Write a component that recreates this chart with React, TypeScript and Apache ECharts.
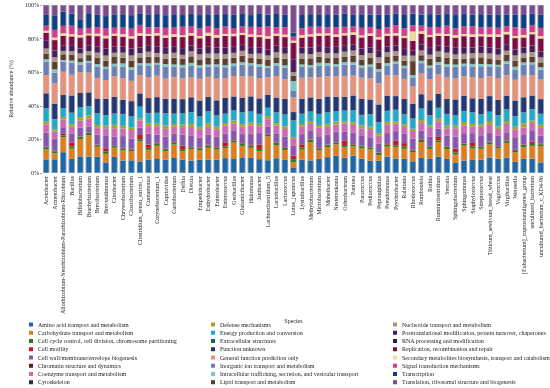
import { useEffect, useRef } from "react";
import * as echarts from "echarts";

const species = [
  "Acetobacter", "Acinetobacter", "Allorhizobium-Neorhizobium-Pararhizobium-Rhizobium", "Bacillus", "Bifidobacterium",
  "Brachybacterium", "Brevibacterium", "Brevundimonas", "Citrobacter", "Chryseobacterium",
  "Cloacibacterium", "Clostridium_sensu_stricto_1", "Comamonas", "Corynebacterium_1", "Cupriavidus",
  "Curtobacterium", "Delftia", "Dietzia", "Empedobacter", "Enhydrobacter",
  "Enterobacter", "Enterococcus", "Geobacillus", "Glutamicibacter", "Halomonas",
  "Janibacter", "Lachnoclostridium_5", "Lactobacillus", "Lactococcus", "Lotus_japonicus",
  "Lysinibacillus", "Methylobacterium", "Microbacterium", "Moheibacter", "Nesterenkonia",
  "Ochrobactrum", "Pantoea", "Paracoccus", "Pediococcus", "Peptoniphilus",
  "Pseudomonas", "Psychrobacter", "Ralstonia", "Rhodococcus", "Romboutsia",
  "Rothia", "Ruminiclostridium", "Serratia", "Sphingobacterium", "Sphingomonas",
  "Staphylococcus", "Streptococcus", "Triticum_aestivum_bread_wheat", "Vagococcus", "Virgibacillus",
  "Weissella", "[Eubacterium]_coprostanoligenes_group", "uncultured_bacterium", "uncultured_bacterium_c_KD4-96",
];

const categories = [
  "Amino acid transport and metabolism",
  "Carbohydrate transport and metabolism",
  "Cell cycle control, cell division, chromosome partitioning",
  "Cell motility",
  "Cell wall/membrane/envelope biogenesis",
  "Chromatin structure and dynamics",
  "Coenzyme transport and metabolism",
  "Cytoskeleton",
  "Defense mechanisms",
  "Energy production and conversion",
  "Extracellular structures",
  "Function unknown",
  "General function prediction only",
  "Inorganic ion transport and metabolism",
  "Intracellular trafficking, secretion, and vesicular transport",
  "Lipid transport and metabolism",
  "Nucleotide transport and metabolism",
  "Posttranslational modification, protein turnover, chaperones",
  "RNA processing and modification",
  "Replication, recombination and repair",
  "Secondary metabolites biosynthesis, transport and catabolism",
  "Signal transduction mechanisms",
  "Transcription",
  "Translation, ribosomal structure and biogenesis",
];

const colors = [
  "#1f66a6", "#e07d1a", "#2a7a1e", "#c01a1f", "#8a55b0", "#5e1a16", "#d066b8", "#2e2e2e",
  "#aaa12a", "#1eaacb", "#13665e", "#233872", "#e99178", "#6a7fb5", "#7cc8c0", "#5c3d2e",
  "#a89484", "#4a1a5e", "#1d1d6e", "#7e0c42", "#f7d898", "#d63a84", "#0c3f86", "#7b4b8e",
];

const aminoAcid = [8.2, 8, 12.5, 8.2, 10.5, 10, 10, 6.2, 9.5, 7.5, 7.5, 7, 8, 8.5, 8, 9, 8, 7.5, 8, 8, 8, 9, 8.5, 9.5, 9, 8.5, 8, 9, 8, 3.5, 8, 7.5, 8.5, 9.5, 10.5, 9.5, 10.5, 8.5, 7.5, 7, 10, 9, 8.5, 7.5, 9.5, 8.5, 10, 8.5, 6, 7.5, 8, 8, 9.5, 8.5, 9.5, 6.5, 8.5, 9, 6.5];
const carbohydrate = [6, 3.5, 9, 6, 11, 13, 6, 5, 5.5, 6, 5.5, 12, 6, 8, 5, 8, 5, 7, 5.5, 7, 6, 6, 10, 7, 6, 5, 15, 8, 6, 3, 6, 11, 5, 6, 7, 6.5, 5.5, 6, 7, 3, 6, 7, 6, 6, 10, 6, 9, 6, 5, 9, 7, 6.5, 8, 6, 9, 5.5, 7, 8, 10];
const cellCycle = [1.4, 1.2, 1, 1.3, 1.2, 1.5, 1, 1.3, 1.1, 1.2, 1, 1.4, 1.2, 1.3, 1.1, 1.2, 1.3, 1, 1.2, 1.4, 1.3, 1.1, 1.2, 1.3, 1.4, 1.2, 1, 1.5, 1.2, 2, 1.2, 1.3, 1.1, 1.2, 1, 1.3, 1.2, 1.4, 1.1, 1.2, 1.3, 1.2, 1.4, 1.1, 1.3, 1.2, 1, 1.3, 1.2, 1.1, 1.4, 1.2, 1.3, 1.1, 1.2, 1.3, 1.4, 1.2, 1.1];
const cellMotility = [0.2, 0.3, 1, 2.2, 0.3, 0.2, 0.3, 2, 0.3, 0.4, 0.3, 3, 2, 0.5, 0.3, 0.4, 2, 0.3, 0.3, 0.4, 0.3, 2.5, 0.3, 0.4, 0.3, 2.8, 0.5, 0.3, 0.4, 2.2, 2, 0.3, 0.4, 0.3, 0.3, 2.6, 0.3, 0.4, 0.3, 0.3, 0.4, 2.8, 2, 0.3, 0.4, 0.3, 2.2, 0.3, 2.4, 0.3, 2, 0.3, 0.4, 0.3, 0.3, 0.4, 0.3, 1.5, 0.3];
const cellWall = [8.5, 7, 4, 5, 5.5, 3.5, 6, 7.5, 5, 7, 6, 4, 6.5, 5, 7, 5, 6.5, 7, 6, 6, 6, 5, 6, 5.5, 6.5, 7, 4.5, 5, 6.5, 6, 6, 5, 7, 6, 6.5, 5.5, 7, 6, 6, 5, 6.5, 6, 5.5, 7, 5.5, 6, 5, 6.5, 7, 6, 6, 6.5, 5.5, 6, 5, 7, 6, 6.5, 5];
const chromatin = [0.1, 0.1, 0.05, 0.1, 0.1, 0.05, 0.1, 0.1, 0.1, 0.05, 0.1, 0.1, 0.1, 0.05, 0.1, 0.1, 0.1, 0.1, 0.05, 0.1, 0.1, 0.1, 0.05, 0.1, 0.1, 0.1, 0.1, 0.05, 0.1, 0.2, 0.1, 0.1, 0.05, 0.1, 0.1, 0.1, 0.05, 0.1, 0.1, 0.1, 0.1, 0.05, 0.1, 0.1, 0.1, 0.05, 0.1, 0.1, 0.1, 0.1, 0.05, 0.1, 0.1, 0.1, 0.05, 0.1, 0.1, 0.1, 0.1];
const coenzyme = [5, 4, 4.5, 4, 4.5, 5, 4.5, 4, 5, 4.5, 5, 4, 4.5, 5, 4.5, 4, 4.5, 5, 5, 4.5, 4.5, 5, 4, 4.5, 5, 4, 4.5, 5, 4.5, 4, 4.5, 4, 5, 4.5, 4, 5, 4.5, 4, 5, 4.5, 5, 4.5, 4, 5, 4.5, 5, 4.5, 4, 5, 4.5, 4, 5, 4.5, 4, 5, 4.5, 4, 5, 4.5];
const cytoskeleton = [0.05, 0.05, 0.05, 0.05, 0.05, 0.05, 0.05, 0.05, 0.05, 0.05, 0.05, 0.05, 0.05, 0.05, 0.05, 0.05, 0.05, 0.05, 0.05, 0.05, 0.05, 0.05, 0.05, 0.05, 0.05, 0.05, 0.05, 0.05, 0.05, 0.1, 0.05, 0.05, 0.05, 0.05, 0.05, 0.05, 0.05, 0.05, 0.05, 0.05, 0.05, 0.05, 0.05, 0.05, 0.05, 0.05, 0.05, 0.05, 0.05, 0.05, 0.05, 0.05, 0.05, 0.05, 0.05, 0.05, 0.05, 0.05, 0.05];
const defense = [1.5, 1.2, 1.6, 1.5, 2.2, 1.8, 1.4, 1.5, 2, 1.6, 1.4, 1.3, 1.8, 1.5, 2, 1.6, 1.5, 1.8, 1.4, 2, 1.6, 1.5, 1.8, 1.4, 1.6, 1.5, 2, 1.4, 1.6, 1.2, 1.5, 1.8, 1.6, 1.5, 2, 1.4, 1.6, 1.8, 1.5, 1.2, 1.8, 1.5, 1.6, 1.4, 2, 1.5, 1.6, 1.8, 1.5, 2.2, 1.6, 1.5, 2.4, 1.5, 1.8, 1.6, 2.5, 1.5, 2];
const energy = [8, 6, 5, 6.5, 6, 5.5, 7, 6, 6.5, 7, 6.5, 7, 6, 6.5, 7, 6, 6.5, 7, 6, 7, 6.5, 5.5, 6, 7, 6.5, 6, 5, 6.5, 7, 10, 6, 5.5, 6.5, 7, 6, 6.5, 7, 6, 7.5, 6, 6.5, 7, 6, 6.5, 7, 6, 6.5, 7, 6, 6.5, 7, 6, 5.5, 6.5, 7, 6, 6.5, 7, 6.5];
const extracellular = [0.2, 0.2, 0.15, 0.2, 0.2, 0.15, 0.2, 0.2, 0.2, 0.15, 0.2, 0.2, 0.2, 0.15, 0.2, 0.2, 0.2, 0.15, 0.2, 0.2, 0.2, 0.15, 0.2, 0.2, 0.2, 0.15, 0.2, 0.2, 0.2, 0.3, 0.2, 0.15, 0.2, 0.2, 0.2, 0.15, 0.2, 0.2, 0.2, 0.15, 0.2, 0.2, 0.2, 0.15, 0.2, 0.2, 0.2, 0.15, 0.2, 0.2, 0.2, 0.15, 0.2, 0.2, 0.2, 0.15, 0.2, 0.2, 0.2];
const functionUnknown = [9, 9, 8, 10, 9, 8.5, 9, 9.5, 10, 8.5, 9, 8, 9, 9.5, 8.5, 9, 8.5, 9, 9.5, 8.5, 9, 9.5, 8.5, 9, 9, 9.5, 8, 9, 9.5, 5, 9, 8.5, 9, 9.5, 9, 8.5, 9, 9.5, 9, 10, 9, 8.5, 9, 9.5, 9, 9, 8.5, 9, 9.5, 9, 8.5, 9, 9.5, 9, 8.5, 9, 9, 8.5, 9];
const generalFunction = [11, 12, 14, 12, 13, 12, 12.5, 11, 12, 13, 12, 11, 12.5, 13, 12, 13, 12.5, 12, 13, 12, 13, 12, 12.5, 13, 12, 12.5, 11, 13, 12, 9, 12.5, 12, 13, 12, 12.5, 13, 12, 12.5, 13, 12, 12.5, 13, 12, 11, 13, 12.5, 12, 13, 12.5, 12, 13, 12.5, 12, 13, 12.5, 12, 13, 12.5, 12];
const inorganicIon = [8, 6, 6, 7, 5, 6, 7, 6.5, 6, 7, 6.5, 6, 7, 6.5, 7, 6, 6.5, 7, 6.5, 6, 7, 6.5, 6, 7, 6.5, 7, 6, 6.5, 7, 4, 6.5, 6, 7, 6.5, 6, 7, 6.5, 6, 7, 6.5, 6, 7, 6.5, 5.5, 6.5, 7, 6, 6.5, 7, 6, 6.5, 7, 6, 6.5, 7, 6, 6.5, 7, 6];
const intracellular = [1.5, 2, 1, 1.2, 1.5, 1.2, 1.5, 1.3, 1.5, 1.8, 1.5, 1.2, 1.5, 1.3, 1.6, 1.4, 1.5, 1.8, 1.5, 1.3, 1.5, 1.4, 1.6, 1.5, 1.3, 1.5, 1.2, 1.5, 1.4, 6, 1.5, 1.3, 1.6, 1.5, 1.4, 1.5, 1.6, 1.3, 1.5, 1.4, 1.6, 1.5, 1.4, 1.8, 1.5, 1.4, 1.6, 1.5, 1.3, 1.5, 1.6, 1.4, 1.5, 1.3, 1.5, 1.6, 1.4, 1.2, 1.5];
const lipid = [3.5, 4.5, 3.5, 3.5, 2.5, 3.5, 4, 3.5, 4, 3.5, 4, 3.5, 4, 3.5, 3, 4, 3.5, 4, 3.5, 4, 3.5, 4, 3.5, 4, 3, 3.5, 4, 3.5, 4, 3.5, 3.5, 4, 3.5, 3, 4, 3.5, 4, 3.5, 4, 3.5, 4, 3.5, 3, 9, 3.5, 4, 3.5, 4, 3.5, 3, 3.5, 4, 3.5, 3, 4, 3.5, 3, 3.5, 3];
const nucleotide = [3, 2.5, 2, 2, 3, 2.5, 3, 3, 2.5, 3, 3, 2.5, 3, 2.5, 3, 3, 2.5, 3, 3, 2.5, 3, 2.5, 3, 3, 2.5, 3, 2.5, 3, 3, 2, 3, 2.5, 3, 3, 2.5, 3, 3, 2.5, 3, 3, 2.5, 3, 3, 3.5, 3, 2.5, 3, 3, 2.5, 3, 3, 2.5, 3, 3, 2.5, 3, 2.5, 3, 3];
const posttranslational = [5, 4, 3, 3.5, 3, 3.5, 3.5, 4, 3.5, 3.5, 4, 3.5, 3.5, 4, 3.5, 3.5, 4, 3.5, 3.5, 4, 3.5, 4, 3.5, 3.5, 4, 3.5, 3.5, 4, 3.5, 8, 3.5, 4, 3.5, 3.5, 4, 3.5, 3.5, 4, 3.5, 4, 3.5, 3.5, 4, 3.5, 3.5, 4, 3.5, 3.5, 4, 3.5, 3.5, 4, 3.5, 3.5, 4, 3.5, 3.5, 4, 3.5];
const rnaProcessing = [0.1, 0.1, 0.1, 0.1, 0.1, 0.1, 0.1, 0.1, 0.1, 0.1, 0.1, 0.1, 0.1, 0.1, 0.1, 0.1, 0.1, 0.1, 0.1, 0.1, 0.1, 0.1, 0.1, 0.1, 0.1, 0.1, 0.1, 0.1, 0.1, 0.2, 0.1, 0.1, 0.1, 0.1, 0.1, 0.1, 0.1, 0.1, 0.1, 0.1, 0.1, 0.1, 0.1, 0.1, 0.1, 0.1, 0.1, 0.1, 0.1, 0.1, 0.1, 0.1, 0.1, 0.1, 0.1, 0.1, 0.1, 0.1, 0.1];
const replication = [4.5, 6, 6, 5, 7, 6, 6.5, 6, 6.5, 6, 6, 7, 6, 6.5, 6, 6, 6.5, 6, 6, 6.5, 6, 7, 6.5, 6, 6, 6.5, 7, 6, 6.5, 10, 6, 6.5, 6, 7, 6, 6.5, 6, 6.5, 7, 6, 6.5, 6, 6.5, 6, 7, 6.5, 6, 6.5, 6, 7, 6.5, 6, 6.5, 7, 6, 6.5, 6, 7, 8];
const secondary = [1.2, 1.5, 1.5, 1.2, 1.5, 1, 1.5, 1.5, 1.2, 1.5, 1.3, 1.5, 1.2, 1.5, 1.3, 1.5, 1.2, 1.5, 1.3, 1.8, 1.5, 1.2, 1.5, 1.3, 1.5, 1.2, 1.5, 1.3, 1.5, 1.2, 1.5, 1.3, 1.5, 1.2, 1.5, 1.3, 1.5, 1.2, 1.5, 1.3, 1.2, 1.5, 1.3, 6, 1.5, 1.3, 1.5, 1.2, 1.5, 1.3, 1.5, 1.2, 1.5, 1.3, 1.5, 1.2, 1.5, 1.3, 1.5];
const signal = [3, 4.5, 4.5, 5, 4, 3.5, 4, 4.5, 3.5, 4, 4.5, 5, 4, 3.5, 4.5, 4, 5, 4, 4.5, 4, 4, 4.5, 3.5, 4, 4.5, 5, 6, 4, 4.5, 2.5, 4, 4.5, 4, 3.5, 4.5, 4, 3.5, 4.5, 4, 4.5, 4, 5, 4.5, 4, 3.5, 4.5, 4, 5, 4, 4.5, 5, 4, 4.5, 4, 3.5, 5, 4, 4.5, 5];
const transcription = [6.5, 8.5, 8.5, 7, 6, 9, 7.5, 7, 8, 7.5, 8, 7, 7.5, 8, 7.5, 8, 7, 7.5, 8, 7, 8, 7.5, 8, 7.5, 7, 8, 7.5, 8, 7.5, 2.5, 8, 7.5, 7, 8, 7.5, 8, 7, 8, 7.5, 8, 7.5, 7, 8, 7.5, 7, 8, 7.5, 7, 8, 7.5, 7, 8, 7.5, 8, 7, 7.5, 8, 7, 8];
const translation = [6, 6, 4, 5, 9, 5, 6, 6.5, 5.5, 6, 6, 5, 6, 5.5, 6, 5.5, 6, 5.5, 6, 5.5, 6, 5.5, 6, 5.5, 6, 5.5, 6, 5.5, 6, 17, 6, 5.5, 6, 5.5, 6, 5.5, 6, 5.5, 6, 5.5, 6, 5.5, 6, 5.5, 6, 5.5, 6, 5.5, 6, 5.5, 6, 5.5, 6, 5.5, 6, 5.5, 6, 5.5, 6];

const seriesValues = [
  aminoAcid, carbohydrate, cellCycle, cellMotility, cellWall, chromatin, coenzyme, cytoskeleton,
  defense, energy, extracellular, functionUnknown, generalFunction, inorganicIon, intracellular, lipid,
  nucleotide, posttranslational, rnaProcessing, replication, secondary, signal, transcription, translation,
];

const FONT = "'Liberation Serif', 'Times New Roman', serif";

export default function App() {
  const ref = useRef<HTMLDivElement>(null);
  useEffect(() => {
    if (!ref.current) return;
    const chart = echarts.init(ref.current, null, { renderer: "svg" });
    const totals = species.map((_, i) => seriesValues.reduce((s, arr) => s + arr[i], 0));
    const series: any[] = categories.map((name, k) => ({
      name,
      type: "bar",
      stack: "total",
      barWidth: "72%",
      itemStyle: { color: colors[k] },
      data: seriesValues[k].map((v, i) => (v / totals[i]) * 100),
    }));
    series.push({
      name: "frame",
      type: "bar",
      barWidth: "72%",
      barGap: "-100%",
      silent: true,
      z: 3,
      itemStyle: { color: "rgba(0,0,0,0)", borderColor: "#c4c4c4", borderWidth: 0.6 },
      data: species.map(() => 100),
    });
    const legendLefts = [29, 211, 393];
    chart.setOption({
      animation: false,
      textStyle: { fontFamily: FONT },
      grid: { left: 29, right: 5, top: 5, bottom: 215, containLabel: false },
      xAxis: {
        type: "category",
        data: species,
        name: "Species",
        nameLocation: "middle",
        nameGap: 142,
        nameTextStyle: { fontFamily: FONT, fontSize: 6, color: "#222" },
        axisLine: { show: false },
        axisTick: { show: false },
        axisLabel: { interval: 0, rotate: 90, fontSize: 6, fontFamily: FONT, color: "#222", margin: 3 },
      },
      yAxis: {
        type: "value",
        min: 0,
        max: 100,
        interval: 20,
        name: "Relative abundance (%)",
        nameLocation: "middle",
        nameGap: 20,
        nameTextStyle: { fontFamily: FONT, fontSize: 6, color: "#222" },
        axisLine: { show: false },
        axisTick: { show: true, length: 2, lineStyle: { color: "#444", width: 0.5 } },
        splitLine: { show: false },
        axisLabel: { formatter: "{value}%", fontSize: 6, fontFamily: FONT, color: "#222", margin: 3 },
      },
      legend: [0, 1, 2].map((c) => ({
        data: categories.slice(c * 8, c * 8 + 8),
        orient: "vertical",
        left: legendLefts[c],
        top: 321,
        itemWidth: 4,
        itemHeight: 4,
        itemGap: 1.25,
        icon: "rect",
        selectedMode: false,
        padding: 0,
        textStyle: { fontFamily: FONT, fontSize: 6, lineHeight: 7, color: "#222" },
      })),
      series,
    });
    return () => chart.dispose();
  }, []);
  return <div ref={ref} style={{ position: "fixed", left: 0, top: 0, width: 550, height: 388 }} />;
}
